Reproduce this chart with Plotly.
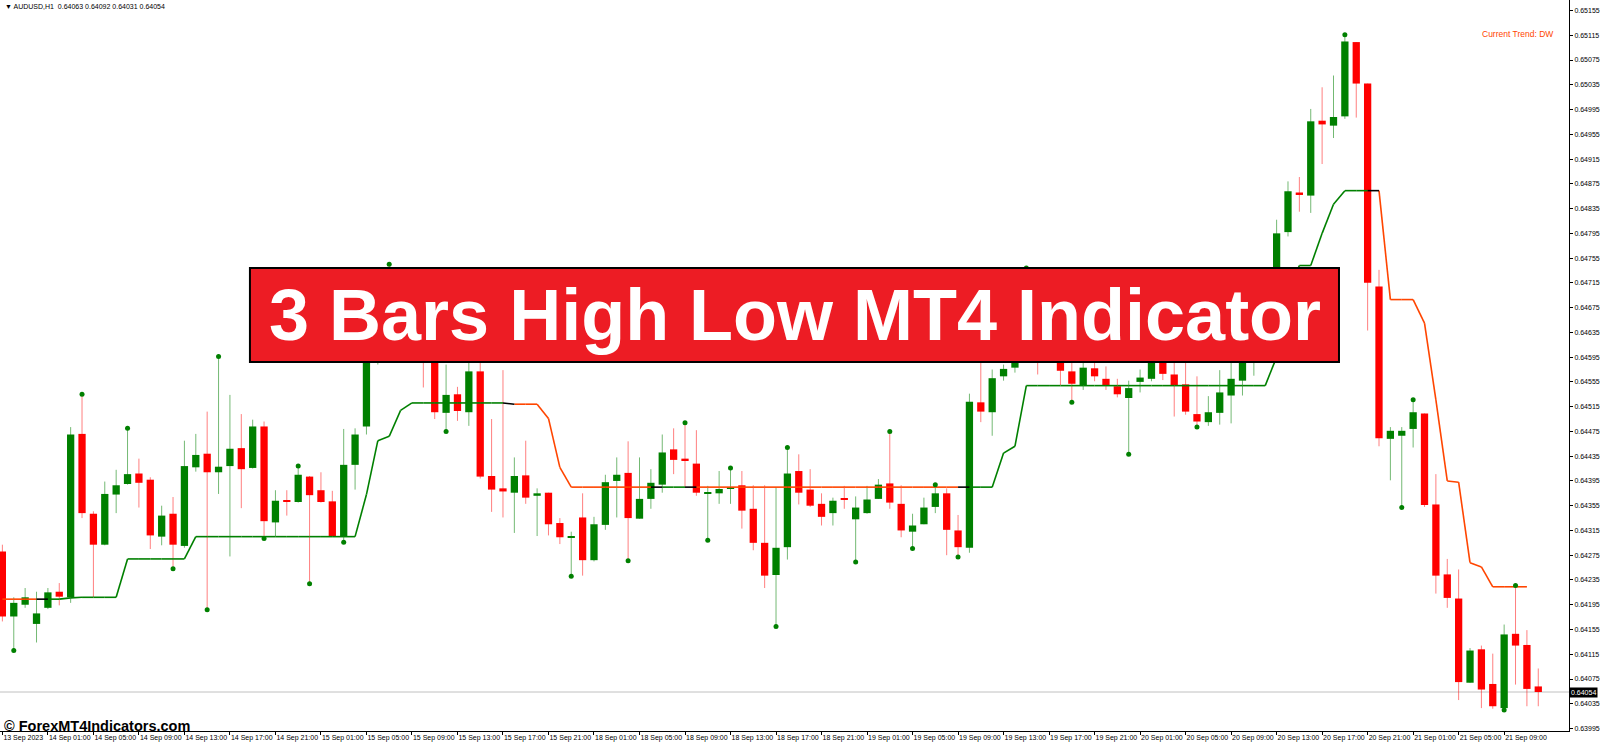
"""
AUDUSD H1 chart with the 3 Bars High Low indicator, MT4 look
"""

import plotly.graph_objects as go


# candles, 13 Sep 21:00 .. 21 Sep 12:00 (weekend bars are skipped)
OPEN = [
    0.64281, 0.64176, 0.64195, 0.64164, 0.64190, 0.64216, 0.64207, 0.64471, 0.64342, 0.64292,
    0.64373, 0.64390, 0.64407, 0.64397, 0.64305, 0.64342, 0.64290, 0.64417, 0.64439, 0.64409,
    0.64419, 0.64448, 0.64416, 0.64483, 0.64328, 0.64363, 0.64361, 0.64402, 0.64380, 0.64362,
    0.64305, 0.64421, 0.64483, 0.64640, 0.64700, 0.64690, 0.64660, 0.64675, 0.64610, 0.64505,
    0.64535, 0.64506, 0.64572, 0.64403, 0.64383, 0.64376, 0.64404, 0.64371, 0.64376, 0.64327,
    0.64303, 0.64336, 0.64267, 0.64324, 0.64395, 0.64408, 0.64334, 0.64366, 0.64389, 0.64446,
    0.64431, 0.64423, 0.64375, 0.64375, 0.64383, 0.64388, 0.64350, 0.64295, 0.64243, 0.64288,
    0.64411, 0.64381, 0.64358, 0.64343, 0.64367, 0.64333, 0.64343, 0.64366, 0.64391, 0.64358,
    0.64313, 0.64325, 0.64353, 0.64375, 0.64315, 0.64287, 0.64522, 0.64506, 0.64564, 0.64578,
    0.64612, 0.64680, 0.64630, 0.64612, 0.64572, 0.64550, 0.64577, 0.64560, 0.64548, 0.64529,
    0.64555, 0.64560, 0.64620, 0.64567, 0.64551, 0.64503, 0.64490, 0.64505, 0.64533, 0.64557,
    0.64620, 0.64700, 0.64720, 0.64797, 0.64861, 0.64856, 0.64977, 0.64969, 0.64984, 0.65104,
    0.65037, 0.64709, 0.64463, 0.64468, 0.64479, 0.64504, 0.64357, 0.64244, 0.64205, 0.64069,
    0.64123, 0.64067, 0.64028, 0.64148, 0.64130, 0.64063,
]
HIGH = [
    0.64292, 0.64207, 0.64222, 0.64216, 0.64222, 0.64230, 0.64482, 0.64535, 0.64346, 0.64394,
    0.64413, 0.64480, 0.64431, 0.64401, 0.64355, 0.64369, 0.64460, 0.64471, 0.64507, 0.64596,
    0.64534, 0.64503, 0.64494, 0.64491, 0.64380, 0.64380, 0.64419, 0.64403, 0.64409, 0.64379,
    0.64479, 0.64480, 0.64660, 0.64720, 0.64745, 0.64715, 0.64700, 0.64690, 0.64630, 0.64583,
    0.64547, 0.64600, 0.64610, 0.64495, 0.64574, 0.64433, 0.64460, 0.64383, 0.64376, 0.64335,
    0.64313, 0.64375, 0.64337, 0.64405, 0.64433, 0.64459, 0.64433, 0.64414, 0.64470, 0.64480,
    0.64489, 0.64477, 0.64387, 0.64411, 0.64416, 0.64411, 0.64388, 0.64388, 0.64385, 0.64449,
    0.64438, 0.64414, 0.64375, 0.64368, 0.64387, 0.64370, 0.64387, 0.64398, 0.64475, 0.64388,
    0.64342, 0.64368, 0.64389, 0.64383, 0.64340, 0.64536, 0.64600, 0.64575, 0.64583, 0.64630,
    0.64739, 0.64700, 0.64660, 0.64640, 0.64595, 0.64595, 0.64605, 0.64580, 0.64560, 0.64557,
    0.64575, 0.64640, 0.64650, 0.64595, 0.64595, 0.64564, 0.64532, 0.64574, 0.64610, 0.64650,
    0.64735, 0.64735, 0.64817, 0.64879, 0.64886, 0.64996, 0.65031, 0.65050, 0.65116, 0.65104,
    0.65037, 0.64736, 0.64482, 0.64482, 0.64526, 0.64504, 0.64406, 0.64269, 0.64252, 0.64125,
    0.64129, 0.64116, 0.64163, 0.64226, 0.64154, 0.64092,
]
LOW = [
    0.64168, 0.64121, 0.64190, 0.64134, 0.64188, 0.64194, 0.64198, 0.64335, 0.64207, 0.64291,
    0.64343, 0.64389, 0.64352, 0.64285, 0.64291, 0.64253, 0.64287, 0.64410, 0.64187, 0.64374,
    0.64273, 0.64351, 0.64415, 0.64302, 0.64305, 0.64339, 0.64360, 0.64229, 0.64360, 0.64305,
    0.64296, 0.64381, 0.64470, 0.64583, 0.64650, 0.64630, 0.64610, 0.64546, 0.64495, 0.64475,
    0.64492, 0.64484, 0.64399, 0.64345, 0.64336, 0.64311, 0.64358, 0.64306, 0.64307, 0.64293,
    0.64241, 0.64242, 0.64265, 0.64316, 0.64336, 0.64266, 0.64334, 0.64350, 0.64376, 0.64406,
    0.64386, 0.64371, 0.64299, 0.64358, 0.64358, 0.64318, 0.64283, 0.64222, 0.64160, 0.64268,
    0.64357, 0.64353, 0.64323, 0.64323, 0.64350, 0.64264, 0.64342, 0.64366, 0.64350, 0.64304,
    0.64286, 0.64325, 0.64343, 0.64275, 0.64272, 0.64279, 0.64490, 0.64468, 0.64557, 0.64570,
    0.64600, 0.64567, 0.64595, 0.64550, 0.64522, 0.64542, 0.64556, 0.64542, 0.64530, 0.64438,
    0.64538, 0.64556, 0.64558, 0.64499, 0.64502, 0.64482, 0.64484, 0.64486, 0.64488, 0.64533,
    0.64565, 0.64680, 0.64700, 0.64790, 0.64830, 0.64828, 0.64907, 0.64949, 0.64980, 0.64982,
    0.64638, 0.64451, 0.64396, 0.64352, 0.64449, 0.64353, 0.64213, 0.64190, 0.64041, 0.64069,
    0.64028, 0.64027, 0.64025, 0.64066, 0.64031, 0.64031,
]
CLOSE = [
    0.64176, 0.64198, 0.64207, 0.64181, 0.64215, 0.64208, 0.64470, 0.64343, 0.64292, 0.64374,
    0.64388, 0.64406, 0.64392, 0.64307, 0.64339, 0.64292, 0.64419, 0.64437, 0.64409, 0.64418,
    0.64447, 0.64414, 0.64483, 0.64330, 0.64363, 0.64361, 0.64405, 0.64372, 0.64361, 0.64305,
    0.64421, 0.64470, 0.64640, 0.64700, 0.64690, 0.64660, 0.64675, 0.64610, 0.64506, 0.64534,
    0.64508, 0.64572, 0.64402, 0.64381, 0.64378, 0.64403, 0.64368, 0.64375, 0.64325, 0.64304,
    0.64305, 0.64267, 0.64325, 0.64393, 0.64405, 0.64335, 0.64366, 0.64392, 0.64441, 0.64429,
    0.64428, 0.64376, 0.64377, 0.64382, 0.64385, 0.64347, 0.64295, 0.64242, 0.64287, 0.64407,
    0.64376, 0.64355, 0.64337, 0.64363, 0.64365, 0.64352, 0.64365, 0.64389, 0.64360, 0.64315,
    0.64323, 0.64352, 0.64375, 0.64316, 0.64288, 0.64523, 0.64507, 0.64561, 0.64576, 0.64615,
    0.64680, 0.64630, 0.64610, 0.64573, 0.64552, 0.64578, 0.64564, 0.64550, 0.64535, 0.64545,
    0.64562, 0.64610, 0.64568, 0.64550, 0.64507, 0.64491, 0.64506, 0.64538, 0.64560, 0.64625,
    0.64700, 0.64725, 0.64795, 0.64863, 0.64857, 0.64976, 0.64971, 0.64983, 0.65105, 0.65037,
    0.64715, 0.64464, 0.64476, 0.64476, 0.64506, 0.64356, 0.64242, 0.64206, 0.64070, 0.64121,
    0.64058, 0.64031, 0.64147, 0.64129, 0.64059, 0.64054,
]

# indicator line, one value per bar (last bar not drawn)
LEVEL = [
    0.64204, 0.64204, 0.64204, 0.64204, 0.64204, 0.64204, 0.64206, 0.64207, 0.64207, 0.64207,
    0.64207, 0.64269, 0.64269, 0.64269, 0.64269, 0.64269, 0.64269, 0.64305, 0.64305, 0.64305,
    0.64305, 0.64305, 0.64305, 0.64305, 0.64305, 0.64305, 0.64305, 0.64305, 0.64305, 0.64305,
    0.64305, 0.64305, 0.64373, 0.64460, 0.64467, 0.64509, 0.64521, 0.64521, 0.64521, 0.64521,
    0.64521, 0.64521, 0.64521, 0.64521, 0.64521, 0.64519, 0.64519, 0.64519, 0.64496, 0.64417,
    0.64385, 0.64385, 0.64385, 0.64385, 0.64385, 0.64385, 0.64385, 0.64385, 0.64385, 0.64385,
    0.64385, 0.64385, 0.64385, 0.64385, 0.64385, 0.64385, 0.64385, 0.64385, 0.64385, 0.64385,
    0.64385, 0.64385, 0.64385, 0.64385, 0.64385, 0.64385, 0.64385, 0.64385, 0.64385, 0.64385,
    0.64385, 0.64385, 0.64385, 0.64385, 0.64385, 0.64385, 0.64385, 0.64385, 0.64440, 0.64451,
    0.64549, 0.64549, 0.64549, 0.64549, 0.64549, 0.64549, 0.64549, 0.64549, 0.64549, 0.64549,
    0.64549, 0.64549, 0.64549, 0.64549, 0.64549, 0.64549, 0.64549, 0.64549, 0.64549, 0.64549,
    0.64549, 0.64549, 0.64595, 0.64700, 0.64743, 0.64743, 0.64795, 0.64842, 0.64864, 0.64864,
    0.64864, 0.64864, 0.64688, 0.64688, 0.64688, 0.64650, 0.64526, 0.64395, 0.64393, 0.64263,
    0.64256, 0.64224, 0.64224, 0.64224, 0.64224, None,
]
# trend of the segment ending at each bar: u = up, d = down, n = switch
TREND = (
    "dddd" "n" + "u" * 40 + "n" + "d" * 12 + "n" + "uu" + "n" + "d" * 23
    + "n" + "u" * 35 + "n" + "d" * 14
)

HIGH_DOTS = [7, 11, 19, 26, 34, 60, 64, 69, 78, 82, 90, 118, 124, 133]
LOW_DOTS = [1, 15, 18, 23, 27, 30, 39, 50, 55, 62, 68, 75, 80, 84, 94, 99, 105, 123, 132]

TIME_LABELS = [
    "13 Sep 2023", "14 Sep 01:00", "14 Sep 05:00", "14 Sep 09:00", "14 Sep 13:00",
    "14 Sep 17:00", "14 Sep 21:00", "15 Sep 01:00", "15 Sep 05:00", "15 Sep 09:00",
    "15 Sep 13:00", "15 Sep 17:00", "15 Sep 21:00", "18 Sep 01:00", "18 Sep 05:00",
    "18 Sep 09:00", "18 Sep 13:00", "18 Sep 17:00", "18 Sep 21:00", "19 Sep 01:00",
    "19 Sep 05:00", "19 Sep 09:00", "19 Sep 13:00", "19 Sep 17:00", "19 Sep 21:00",
    "20 Sep 01:00", "20 Sep 05:00", "20 Sep 09:00", "20 Sep 13:00", "20 Sep 17:00",
    "20 Sep 21:00", "21 Sep 01:00", "21 Sep 05:00", "21 Sep 09:00",
]
LABEL_STEP = 4

PRICE_TICKS = [
    "0.63995", "0.64035", "0.64075", "0.64115", "0.64155", "0.64195", "0.64235", "0.64275",
    "0.64315", "0.64355", "0.64395", "0.64435", "0.64475", "0.64515", "0.64555", "0.64595",
    "0.64635", "0.64675", "0.64715", "0.64755", "0.64795", "0.64835", "0.64875", "0.64915",
    "0.64955", "0.64995", "0.65035", "0.65075", "0.65115", "0.65155",
]

UP = "#008000"
DOWN = "#FF0000"
TREND_COLORS = {"u": UP, "d": "#FF4500", "n": "#000000"}
FONT = "Liberation Sans, Arial, sans-serif"


def _wicks(color_up: bool):
    xs, ys = [], []
    for i, (o, h, l, c) in enumerate(zip(OPEN, HIGH, LOW, CLOSE)):
        if (c >= o) == color_up:
            xs += [i, i, None]
            ys += [l, h, None]
    return xs, ys


def _bodies(color_up: bool):
    xs, base, size = [], [], []
    for i, (o, c) in enumerate(zip(OPEN, CLOSE)):
        if (c >= o) == color_up:
            xs.append(i)
            base.append(min(o, c))
            size.append(abs(c - o))
    return xs, base, size


def _segments(kind: str):
    xs, ys = [], []
    for i in range(1, len(LEVEL)):
        if LEVEL[i] is None or LEVEL[i - 1] is None or TREND[i] != kind:
            continue
        xs += [i - 1, i, None]
        ys += [LEVEL[i - 1], LEVEL[i], None]
    return xs, ys


fig = go.Figure()

for up, color in ((True, "rgba(0,128,0,0.55)"), (False, "rgba(255,0,0,0.5)")):
    wx, wy = _wicks(up)
    fig.add_trace(go.Scatter(x=wx, y=wy, mode="lines",
                             line=dict(color=color, width=1), hoverinfo="skip"))

for up, color in ((True, UP), (False, DOWN)):
    bx, bb, bs = _bodies(up)
    fig.add_trace(go.Bar(x=bx, y=bs, base=bb, width=0.64,
                         marker=dict(color=color, line=dict(width=0))))

for kind in ("u", "d", "n"):
    sx, sy = _segments(kind)
    fig.add_trace(go.Scatter(x=sx, y=sy, mode="lines",
                             line=dict(color=TREND_COLORS[kind], width=1.6)))

fig.add_trace(go.Scatter(
    x=HIGH_DOTS + LOW_DOTS,
    y=[HIGH[i] for i in HIGH_DOTS] + [LOW[i] for i in LOW_DOTS],
    mode="markers",
    marker=dict(color=UP, size=5),
))

last_close = CLOSE[-1]

fig.update_layout(
    width=1600,
    height=745,
    showlegend=False,
    paper_bgcolor="white",
    plot_bgcolor="white",
    margin=dict(l=0, r=31, t=0, b=14),
    barmode="overlay",
    font=dict(family=FONT, size=7, color="black"),
    xaxis=dict(
        range=[-0.21, 137.7],
        tickvals=[k * LABEL_STEP for k in range(len(TIME_LABELS))],
        ticktext=TIME_LABELS,
        ticklabelposition="outside right",
        tickangle=0,
        automargin=False,
        ticks="outside",
        ticklen=3,
        tickcolor="black",
        showline=True,
        linecolor="black",
        linewidth=1,
        showgrid=False,
        zeroline=False,
        tickfont=dict(size=7),
    ),
    yaxis=dict(
        side="right",
        range=[0.63991, 0.65172],
        tickvals=[float(t) for t in PRICE_TICKS],
        ticktext=PRICE_TICKS,
        automargin=False,
        ticks="outside",
        ticklen=3,
        tickcolor="black",
        showline=True,
        linecolor="black",
        linewidth=1,
        showgrid=False,
        zeroline=False,
        tickfont=dict(size=7),
    ),
    shapes=[
        dict(type="line", xref="paper", x0=0, x1=1, yref="y",
             y0=last_close, y1=last_close, layer="below",
             line=dict(color="#C0C0C0", width=1)),
        dict(type="rect", xref="paper", yref="paper",
             x0=0.1593, x1=0.8534, y0=0.5048, y1=0.6334, layer="above",
             fillcolor="#ED1C24", line=dict(color="black", width=2)),
    ],
    annotations=[
        dict(text="3 Bars High Low MT4 Indicator", xref="paper", yref="paper",
             x=0.5064, y=0.5691, showarrow=False,
             font=dict(family=FONT, size=72, color="white", weight="bold")),
        dict(text="▼ AUDUSD,H1  0.64063 0.64092 0.64031 0.64054",
             xref="paper", yref="paper", x=0.002, y=0.999,
             xanchor="left", yanchor="top", showarrow=False,
             font=dict(size=7)),
        dict(text="Current Trend: DW", xref="paper", yref="paper",
             x=0.991, y=0.9535, xanchor="right", yanchor="middle",
             showarrow=False, font=dict(size=8.5, color="#FF4500")),
        dict(text="© ForexMT4Indicators.com", xref="paper", yref="paper",
             x=0.001, y=0.007, xanchor="left", yanchor="middle",
             showarrow=False,
             font=dict(size=14.5, color="black", weight="bold")),
        dict(text=f"{last_close:.5f}", xref="paper", yref="y",
             x=1.0, y=last_close, xanchor="left", yanchor="middle",
             showarrow=False, bgcolor="black", borderpad=1,
             font=dict(size=7, color="white")),
    ],
)

fig.write_html(
    "out.html",
    config={"displayModeBar": False},
    post_script="document.body.style.margin='0';document.body.style.overflow='hidden';",
)
